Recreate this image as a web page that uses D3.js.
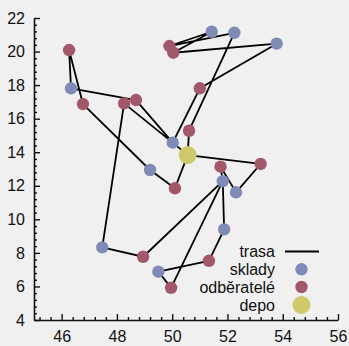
<!DOCTYPE html>
<html><head><meta charset="utf-8">
<script src="https://cdn.jsdelivr.net/npm/d3@7"></script>
<style>body{margin:0;background:#f0f0f0}svg{display:block}</style>
</head><body><svg id="c" width="349" height="346"></svg>
<script>
// sklady (warehouses)
const skladyX = [46.34, 51.43, 52.25, 53.78, 50.02, 49.20, 51.83, 52.31, 51.88, 47.47, 49.50];
const skladyY = [17.81, 21.18, 21.12, 20.47, 14.57, 12.94, 12.28, 11.61, 9.40, 8.33, 6.88];
// odběratelé (customers)
const odberateleX = [46.27, 46.77, 48.26, 48.69, 49.90, 50.04, 51.00, 50.61, 50.10, 51.75, 53.20, 51.33, 48.95, 49.96];
const odberateleY = [20.09, 16.87, 16.91, 17.11, 20.33, 19.93, 17.81, 15.28, 11.85, 13.14, 13.30, 7.53, 7.77, 5.92];
// depo
const depoX = [50.56];
const depoY = [13.83];
// trasa (route as node ids)
const route = ["D0","O10","S7","O9","S6","O13","S10","O11","S8","S6","O12","S9","O2","S4","O3","S0","O0","O1","S5","O8","D0",
               "S4","O6","S3","O5","S1","O4","S2","O7","D0"];
const xTicks = [46, 48, 50, 52, 54, 56];
const yTicks = [4, 6, 8, 10, 12, 14, 16, 18, 20, 22];
const legendLabels = ["trasa", "sklady", "odběratelé", "depo"];

const colS = "#7f8ab6", colO = "#a3586a", colD = "#cfc96b";
const svg = d3.select("#c");
svg.append("rect").attr("width",349).attr("height",346).attr("fill","#f0f0f0");
const x = d3.scaleLinear().domain([45, 56]).range([34, 338]);
const y = d3.scaleLinear().domain([4, 22]).range([320, 18]);

const font = "'Liberation Sans', Arial, sans-serif";
const minorX = d3.range(113, 141).map(k => +(k*0.4).toFixed(1)).filter(v => !xTicks.includes(v));
const minorY = d3.range(10, 56).map(k => +(k*0.4).toFixed(1)).filter(v => !yTicks.includes(v));

function styleAxis(g){
  g.selectAll("path.domain").attr("stroke","#111").attr("stroke-width",1.6);
  g.selectAll(".tick line").attr("stroke","#111").attr("stroke-width",1.4);
  g.selectAll("text").attr("font-family",font).attr("font-size",16).attr("fill","#111");
}
svg.append("g").attr("transform","translate(0,320)")
  .call(d3.axisBottom(x).tickValues(minorX).tickSize(-3).tickSizeOuter(0).tickFormat(""))
  .call(g=>g.select("path.domain").remove()).call(styleAxis);
svg.append("g").attr("transform","translate(34,0)")
  .call(d3.axisLeft(y).tickValues(minorY).tickSize(-3).tickSizeOuter(0).tickFormat(""))
  .call(g=>g.select("path.domain").remove()).call(styleAxis);
svg.append("g").attr("transform","translate(0,320)")
  .call(d3.axisBottom(x).tickValues(xTicks).tickSize(-6).tickSizeOuter(0).tickPadding(11).tickFormat(d3.format("d")))
  .call(styleAxis);
svg.append("g").attr("transform","translate(34,0)")
  .call(d3.axisLeft(y).tickValues(yTicks).tickSize(-6).tickSizeOuter(0).tickPadding(9).tickFormat(d3.format("d")))
  .call(styleAxis);

function node(id){
  const t = id[0], i = +id.slice(1);
  if (t === "S") return [skladyX[i], skladyY[i]];
  if (t === "O") return [odberateleX[i], odberateleY[i]];
  return [depoX[i], depoY[i]];
}
const line = d3.line().x(d=>x(d[0])).y(d=>y(d[1]));
svg.append("path").datum(route.map(node)).attr("d", line)
  .attr("fill","none").attr("stroke","#000").attr("stroke-width",1.8).attr("stroke-linejoin","round");

svg.append("g").selectAll("circle").data(skladyX.map((v,i)=>[v,skladyY[i]])).join("circle")
  .attr("cx",d=>x(d[0])).attr("cy",d=>y(d[1])).attr("r",6.2).attr("fill",colS);
svg.append("g").selectAll("circle").data(odberateleX.map((v,i)=>[v,odberateleY[i]])).join("circle")
  .attr("cx",d=>x(d[0])).attr("cy",d=>y(d[1])).attr("r",6.2).attr("fill",colO);
svg.append("g").selectAll("circle").data(depoX.map((v,i)=>[v,depoY[i]])).join("circle")
  .attr("cx",d=>x(d[0])).attr("cy",d=>y(d[1])).attr("r",9).attr("fill",colD);

// legend
const lg = svg.append("g");
const ly = [251.5, 269.3, 287, 305];
legendLabels.forEach((t,i)=>{
  lg.append("text").attr("x",275).attr("y",ly[i]).attr("dy","0.35em").attr("text-anchor","end")
    .attr("font-family",font).attr("font-size",16).attr("fill","#111").text(t);
});
lg.append("line").attr("x1",285).attr("x2",319).attr("y1",ly[0]).attr("y2",ly[0]).attr("stroke","#000").attr("stroke-width",1.8);
lg.append("circle").attr("cx",301.5).attr("cy",ly[1]).attr("r",6.2).attr("fill",colS);
lg.append("circle").attr("cx",301.5).attr("cy",ly[2]).attr("r",6.2).attr("fill",colO);
lg.append("circle").attr("cx",301.5).attr("cy",ly[3]).attr("r",9).attr("fill",colD);
</script></body></html>
